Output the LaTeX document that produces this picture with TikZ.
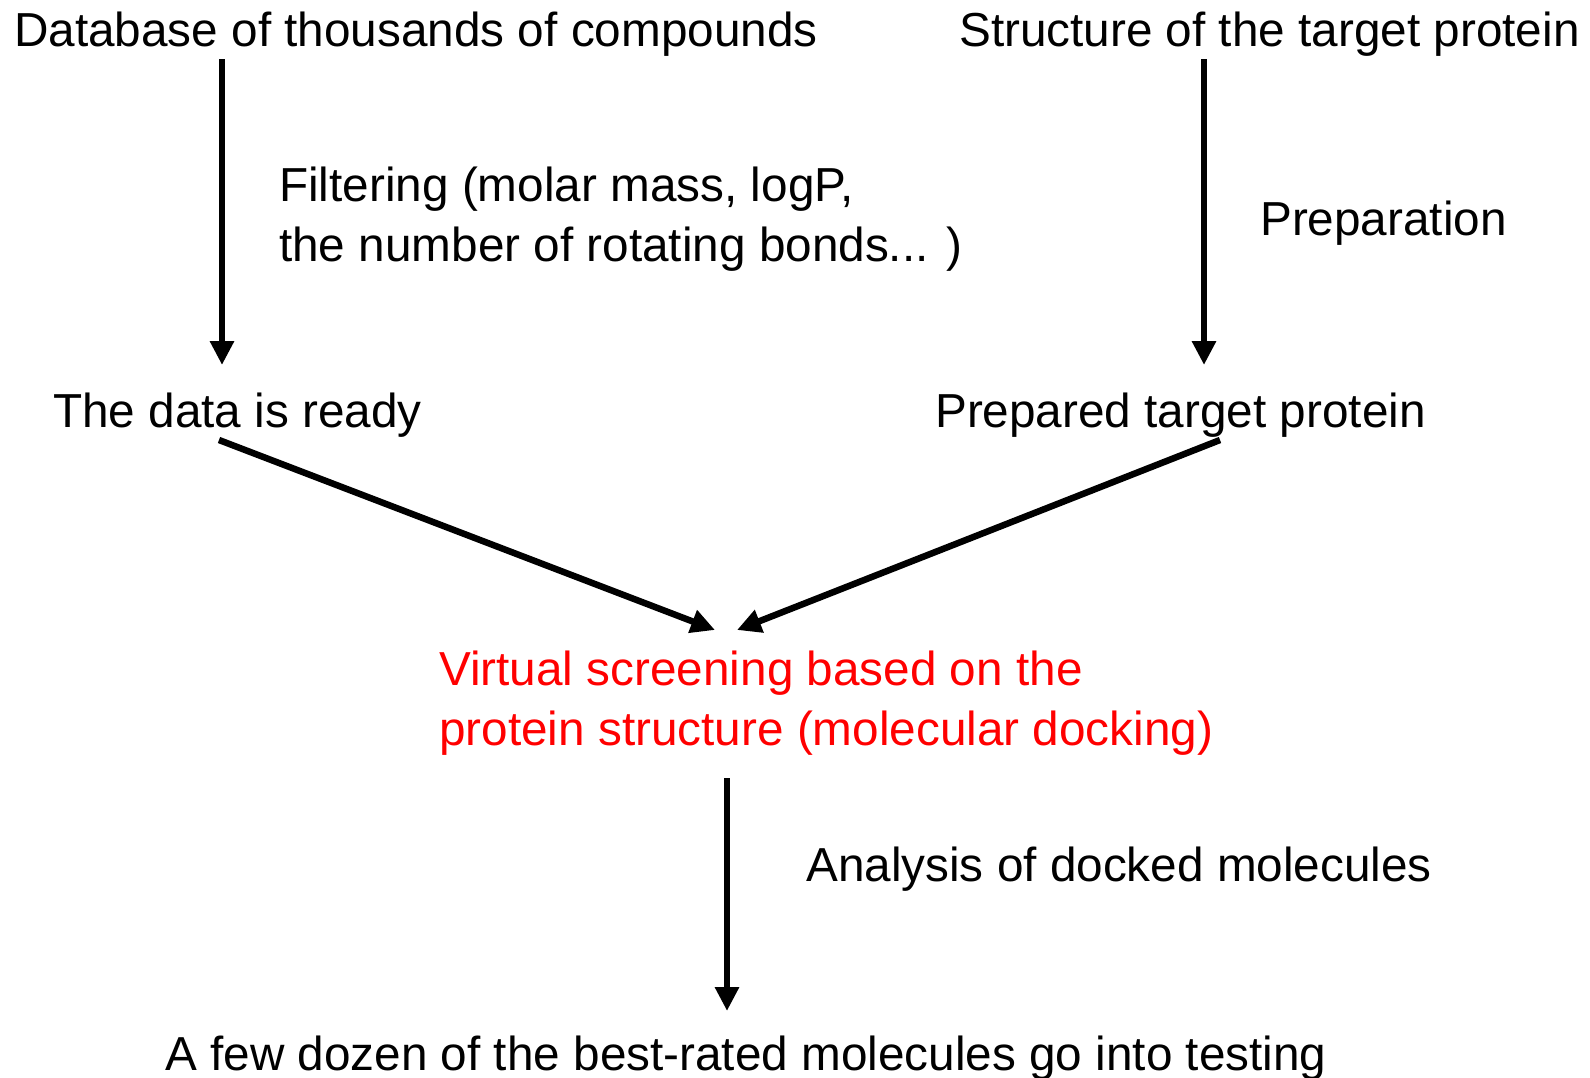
\documentclass[tikz,border=0pt]{standalone}
\usepackage{fontspec}
\setmainfont{Liberation Sans}
\usetikzlibrary{positioning,arrows.meta}

\begin{document}
\begin{tikzpicture}[x=1pt,y=1pt,
    txt/.style={inner sep=0,anchor=base west,font=\fontsize{47.7}{60}\selectfont},
    multi/.style={txt,align=left},
    arrow/.style={-{Triangle[width=23pt,length=24pt]},line width=6.5pt,black}
    ]
    \useasboundingbox (0,0) rectangle (1590,-1077);

    \node[txt] (db) at (14,-46) {Database of thousands of compounds};
    \node[txt] (struct) at (959,-46) {Structure of the target protein};
    % base of a two-line node = its last line
    \node[multi] (filter) at (279,-261) {Filtering (molar mass, logP,\\the number of rotating bonds... )};
    \node[txt] (prep) at (1260,-235) {Preparation};
    \node[txt] (ready) at (53,-427) {The data is ready};
    \node[txt] (target) at (935,-427) {Prepared target protein};
    \node[multi,text=red] (vs) at (439,-745) {Virtual screening based on the\\protein structure (molecular docking)};
    \node[txt] (anal) at (806,-881) {Analysis of docked molecules};
    \node[txt] (best) at (165,-1070) {A few dozen of the best-rated molecules go into testing};

    % arrow ends
    \coordinate (dbout) at (222,-59);
    \coordinate (readyin) at (222,-365);
    \coordinate (structout) at (1204,-59);
    \coordinate (targetin) at (1204,-365);
    \coordinate (readyout) at (219,-440);
    \coordinate (targetout) at (1220,-440);
    \coordinate (vsinl) at (715,-630);
    \coordinate (vsinr) at (737,-630);
    \coordinate (vsout) at (727,-778);
    \coordinate (bestin) at (727,-1011);

    \draw[arrow] (dbout) -- (readyin);
    \draw[arrow] (structout) -- (targetin);
    \draw[arrow] (readyout) -- (vsinl);
    \draw[arrow] (targetout) -- (vsinr);
    \draw[arrow] (vsout) -- (bestin);

\end{tikzpicture}
\end{document}
